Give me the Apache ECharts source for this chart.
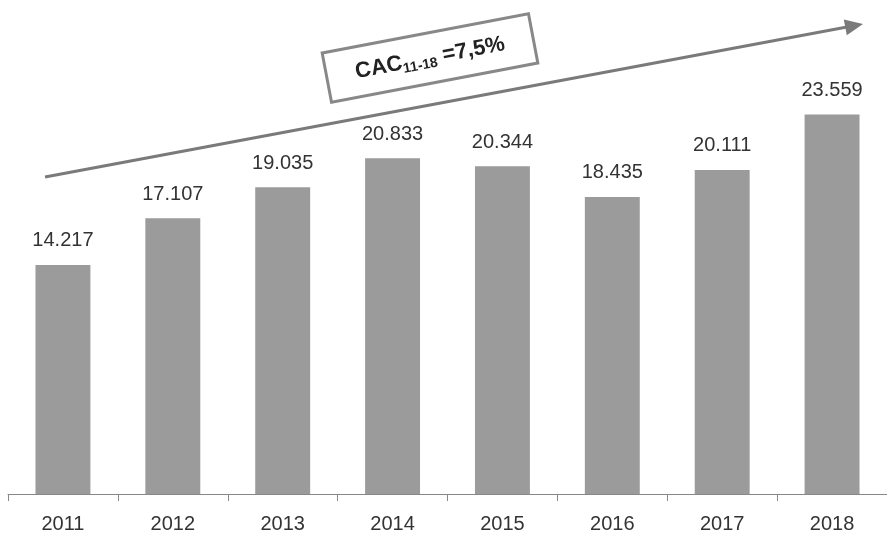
<!DOCTYPE html>
<html><head><meta charset="utf-8">
<script src="https://cdn.jsdelivr.net/npm/echarts@6/dist/echarts.min.js"></script>
<style>html,body{margin:0;padding:0;background:#fff}#c{width:887px;height:534px}</style>
</head><body><div id="c"></div>
<script>
const categories = ['2011','2012','2013','2014','2015','2016','2017','2018'];
const values = [14217,17107,19035,20833,20344,18435,20111,23559];
const valueLabels = ['14.217','17.107','19.035','20.833','20.344','18.435','20.111','23.559'];

const chart = echarts.init(document.getElementById('c'));
chart.setOption({
  backgroundColor:'#fff',
  animation:false,
  grid:{left:8,right:0,top:10.6,bottom:38,containLabel:false},
  xAxis:{type:'category',data:categories,
    axisLine:{lineStyle:{color:'#888',width:1}},
    axisTick:{show:true,length:7,lineStyle:{color:'#888'}},
    axisLabel:{color:'#333',fontSize:20,fontFamily:'Liberation Sans',margin:20}},
  yAxis:{type:'value',min:0,max:30000,show:false,splitLine:{show:false}},
  series:[{type:'bar',data:values,barWidth:'50%',
    itemStyle:{color:'#9b9b9b'},
    label:{show:true,position:'top',distance:14,color:'#333',fontSize:20,fontFamily:'Liberation Sans',
      formatter:p=>valueLabels[p.dataIndex]}}],
  graphic:[
    {type:'line',shape:{x1:45,y1:177,x2:847,y2:27},style:{stroke:'#7a7a7a',lineWidth:3}},
    {type:'polygon',shape:{points:[[863,24],[846.8,35.2],[843.8,19.4]]},style:{fill:'#7a7a7a'}},
    {type:'group',x:430,y:58,rotation:0.188,children:[
      {type:'rect',shape:{x:-105,y:-25,width:210,height:50},style:{fill:'#fff',stroke:'#888',lineWidth:3}},
      {type:'text',x:0,y:0,style:{
        text:'{a|CAC}{b|11-18}{a| =7,5%}',
        align:'center',verticalAlign:'middle',
        rich:{
          a:{fontSize:22,fontWeight:'bold',fontFamily:'Liberation Sans',fill:'#222',color:'#222'},
          b:{fontSize:14,fontWeight:'bold',fontFamily:'Liberation Sans',fill:'#222',color:'#222',padding:[12,0,0,0]}
        }}}
    ]}
  ]
});
</script></body></html>
